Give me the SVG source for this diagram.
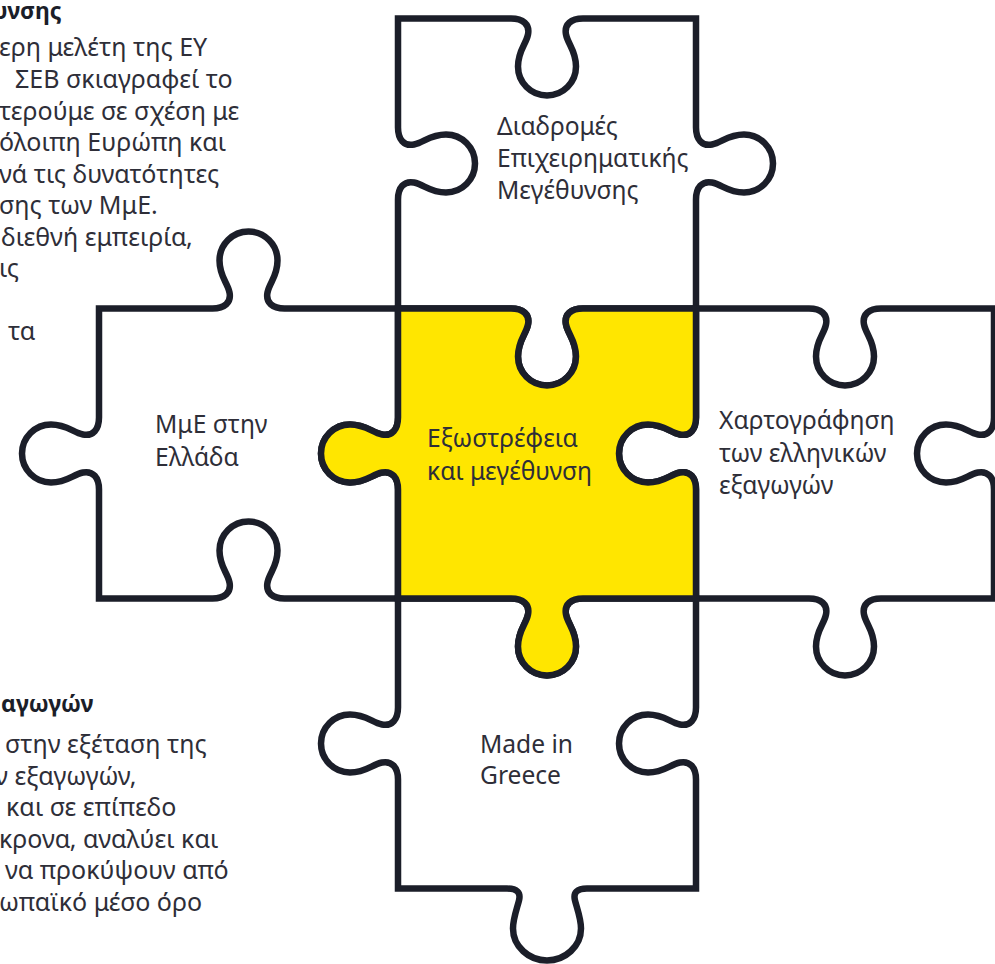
<svg xmlns="http://www.w3.org/2000/svg" width="995" height="964" viewBox="0 0 995 964">
  <style>
    .piece { fill: #ffffff; stroke: #1b1e29; stroke-width: 6.5; stroke-linejoin: miter; }
    .piece.hl { fill: #ffe600; }
    .label { font-family: "Noto Sans", "Open Sans", sans-serif; font-size: 24.6px; fill: #2e2e38; }
    .body { font-family: "Noto Sans", "Open Sans", sans-serif; font-size: 25px; fill: #2e2e38; }
    .head { font-family: "Noto Sans", "Open Sans", sans-serif; font-size: 23px; font-weight: 700; fill: #1b1e29; }
  </style>
  <rect width="995" height="964" fill="#ffffff"/>

  <!-- side descriptions (run past the left border) -->
  <g id="text-top-left">
    <text class="head" x="-7" y="19">υνσης</text>
    <text class="body" x="-1" y="56">ερη μελέτη της ΕΥ</text>
    <text class="body" x="15" y="88">ΣΕΒ σκιαγραφεί το</text>
    <text class="body" x="-1" y="119.5">τερούμε σε σχέση με</text>
    <text class="body" x="-1" y="151">όλοιπη Ευρώπη και</text>
    <text class="body" x="-1" y="182.5">νά τις δυνατότητες</text>
    <text class="body" x="-1" y="214">σης των ΜμΕ.</text>
    <text class="body" x="1" y="245.5">διεθνή εμπειρία,</text>
    <text class="body" x="-1" y="277">ις</text>
    <text class="body" x="8" y="340">τα</text>
  </g>
  <g id="text-bottom-left">
    <text class="head" x="1" y="712">αγωγών</text>
    <text class="body" x="5" y="752.5">στην εξέταση της</text>
    <text class="body" x="-5" y="784.5">ν εξαγωγών,</text>
    <text class="body" x="6" y="816">και σε επίπεδο</text>
    <text class="body" x="-1" y="847.5">κρονα, αναλύει και</text>
    <text class="body" x="5" y="879">να προκύψουν από</text>
    <text class="body" x="-1" y="910.5">ωπαϊκό μέσο όρο</text>
  </g>

  <!-- puzzle pieces -->
  <g id="piece-growth-paths">
    <path class="piece" d="M398,18.5 H511 C523,18.5 530,24.5 528,34.5 C526,44.5 518,50.5 518,66.5 C518,82.5 531,95.5 547,95.5 C563,95.5 576,82.5 576,66.5 C576,50.5 568,44.5 566,34.5 C564,24.5 571,18.5 583,18.5 H696
      V127.5 C696,139.5 702,146.5 712,144.5 C722,142.5 728,134.5 744,134.5 C760,134.5 773,147.5 773,163.5 C773,179.5 760,192.5 744,192.5 C728,192.5 722,184.5 712,182.5 C702,180.5 696,187.5 696,199.5 V308.5
      H583 C571,308.5 564,314.5 566,324.5 C568,334.5 576,340.5 576,356.5 C576,372.5 563,385.5 547,385.5 C531,385.5 518,372.5 518,356.5 C518,340.5 526,334.5 528,324.5 C530,314.5 523,308.5 511,308.5 H398
      V199.5 C398,187.5 404,180.5 414,182.5 C424,184.5 430,192.5 446,192.5 C462,192.5 475,179.5 475,163.5 C475,147.5 462,134.5 446,134.5 C430,134.5 424,142.5 414,144.5 C404,146.5 398,139.5 398,127.5 Z"/>
    <text class="label" x="497" y="135">Διαδρομές</text>
    <text class="label" x="497" y="167">Επιχειρηματικής</text>
    <text class="label" x="497" y="199">Μεγέθυνσης</text>
  </g>

  <g id="piece-smes-greece">
    <path class="piece" d="M99,308.5 H212.5 C224.5,308.5 231.5,302.5 229.5,292.5 C227.5,282.5 219.5,276.5 219.5,260.5 C219.5,244.5 232.5,231.5 248.5,231.5 C264.5,231.5 277.5,244.5 277.5,260.5 C277.5,276.5 269.5,282.5 267.5,292.5 C265.5,302.5 272.5,308.5 284.5,308.5 H398
      V417.5 C398,429.5 392,436.5 382,434.5 C372,432.5 366,424.5 350,424.5 C334,424.5 321,437.5 321,453.5 C321,469.5 334,482.5 350,482.5 C366,482.5 372,474.5 382,472.5 C392,470.5 398,477.5 398,489.5 V598.5
      H284.5 C272.5,598.5 265.5,592.5 267.5,582.5 C269.5,572.5 277.5,566.5 277.5,550.5 C277.5,534.5 264.5,521.5 248.5,521.5 C232.5,521.5 219.5,534.5 219.5,550.5 C219.5,566.5 227.5,572.5 229.5,582.5 C231.5,592.5 224.5,598.5 212.5,598.5 H99
      V489.5 C99,477.5 93,470.5 83,472.5 C73,474.5 67,482.5 51,482.5 C35,482.5 22,469.5 22,453.5 C22,437.5 35,424.5 51,424.5 C67,424.5 73,432.5 83,434.5 C93,436.5 99,429.5 99,417.5 Z"/>
    <text class="label" x="155" y="433">ΜμΕ στην</text>
    <text class="label" x="155" y="466">Ελλάδα</text>
  </g>

  <g id="piece-export-mapping">
    <path class="piece" d="M696,308.5 H809 C821,308.5 828,314.5 826,324.5 C824,334.5 816,340.5 816,356.5 C816,372.5 829,385.5 845,385.5 C861,385.5 874,372.5 874,356.5 C874,340.5 866,334.5 864,324.5 C862,314.5 869,308.5 881,308.5 H994
      V417.5 C994,429.5 988,436.5 978,434.5 C968,432.5 962,424.5 946,424.5 C930,424.5 917,437.5 917,453.5 C917,469.5 930,482.5 946,482.5 C962,482.5 968,474.5 978,472.5 C988,470.5 994,477.5 994,489.5 V598.5
      H881 C869,598.5 862,604.5 864,614.5 C866,624.5 874,630.5 874,646.5 C874,662.5 861,675.5 845,675.5 C829,675.5 816,662.5 816,646.5 C816,630.5 824,624.5 826,614.5 C828,604.5 821,598.5 809,598.5 H696
      V489.5 C696,477.5 690,470.5 680,472.5 C670,474.5 664,482.5 648,482.5 C632,482.5 619,469.5 619,453.5 C619,437.5 632,424.5 648,424.5 C664,424.5 670,432.5 680,434.5 C690,436.5 696,429.5 696,417.5 Z"/>
    <text class="label" x="719" y="429">Χαρτογράφηση</text>
    <text class="label" x="719" y="461.5">των ελληνικών</text>
    <text class="label" x="719" y="494">εξαγωγών</text>
  </g>

  <g id="piece-made-in-greece">
    <path class="piece" d="M398,598.5 H511 C523,598.5 530,604.5 528,614.5 C526,624.5 518,630.5 518,646.5 C518,662.5 531,675.5 547,675.5 C563,675.5 576,662.5 576,646.5 C576,630.5 568,624.5 566,614.5 C564,604.5 571,598.5 583,598.5 H696
      V707.5 C696,719.5 690,726.5 680,724.5 C670,722.5 664,714.5 648,714.5 C632,714.5 619,727.5 619,743.5 C619,759.5 632,772.5 648,772.5 C664,772.5 670,764.5 680,762.5 C690,760.5 696,767.5 696,779.5 V888.5
      H587 C577,888.5 573,892.5 575,900.5 C577,908.5 581,918.5 581,928.5 C581,946.5 565,960.5 547,960.5 C529,960.5 513,946.5 513,928.5 C513,918.5 517,908.5 519,900.5 C521,892.5 517,888.5 507,888.5 H398
      V779.5 C398,767.5 392,760.5 382,762.5 C372,764.5 366,772.5 350,772.5 C334,772.5 321,759.5 321,743.5 C321,727.5 334,714.5 350,714.5 C366,714.5 372,722.5 382,724.5 C392,726.5 398,719.5 398,707.5 Z"/>
    <text class="label" x="480" y="753">Made in</text>
    <text class="label" x="480" y="784">Greece</text>
  </g>

  <g id="piece-outward-growth">
    <path class="piece hl" d="M398,308.5 H511 C523,308.5 530,314.5 528,324.5 C526,334.5 518,340.5 518,356.5 C518,372.5 531,385.5 547,385.5 C563,385.5 576,372.5 576,356.5 C576,340.5 568,334.5 566,324.5 C564,314.5 571,308.5 583,308.5 H696
      V417.5 C696,429.5 690,436.5 680,434.5 C670,432.5 664,424.5 648,424.5 C632,424.5 619,437.5 619,453.5 C619,469.5 632,482.5 648,482.5 C664,482.5 670,474.5 680,472.5 C690,470.5 696,477.5 696,489.5 V598.5
      H583 C571,598.5 564,604.5 566,614.5 C568,624.5 576,630.5 576,646.5 C576,662.5 563,675.5 547,675.5 C531,675.5 518,662.5 518,646.5 C518,630.5 526,624.5 528,614.5 C530,604.5 523,598.5 511,598.5 H398
      V489.5 C398,477.5 392,470.5 382,472.5 C372,474.5 366,482.5 350,482.5 C334,482.5 321,469.5 321,453.5 C321,437.5 334,424.5 350,424.5 C366,424.5 372,432.5 382,434.5 C392,436.5 398,429.5 398,417.5 Z"/>
    <text class="label" x="427" y="447">Εξωστρέφεια</text>
    <text class="label" x="427" y="480">και μεγέθυνση</text>
  </g>

  <g id="connectors"/>
</svg>
